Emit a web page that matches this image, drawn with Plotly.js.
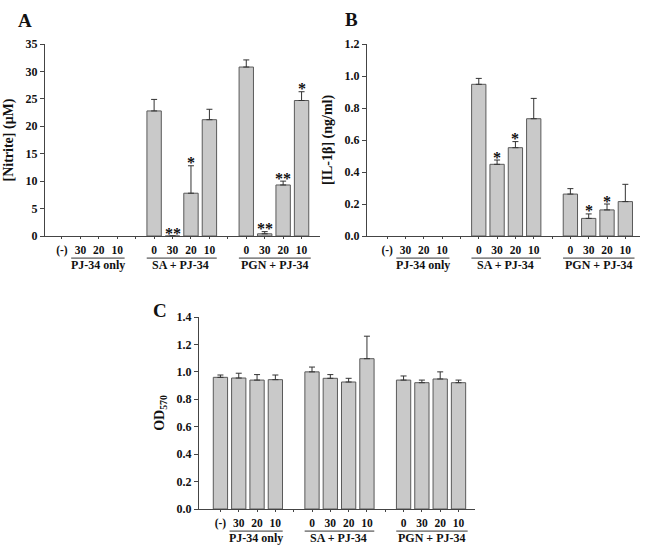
<!DOCTYPE html>
<html>
<head>
<meta charset="utf-8">
<script src="https://cdn.plot.ly/plotly-3.0.1.min.js"></script>
<style>
  body { margin: 0; background: #fff; }
  #fig { width: 651px; height: 554px; }
</style>
</head>
<body>
<div id="fig"></div>
<script>
// kategori dosis (PJ-34, uM) dan kelompok perlakuan
var groupNames = ['PJ-34 only', 'SA + PJ-34', 'PGN + PJ-34'];
var doseLabels = ['(-)', '30', '20', '10', '0', '30', '20', '10', '0', '30', '20', '10'];
var groupOf = [0, 0, 0, 0, 1, 1, 1, 1, 2, 2, 2, 2];

// panel A: nitrite (uM)
var nitrite = [null, null, null, null, 22.8, 0, 7.8, 21.2, 30.8, 0.4, 9.3, 24.7];
var nitriteErr = [0, 0, 0, 0, 2.1, 0, 5.0, 1.9, 1.3, 0.4, 0.7, 1.6];
var nitriteSig = ['', '', '', '', '', '**', '*', '', '', '**', '**', '*'];

// panel B: IL-1beta (ng/ml)
var il1b = [null, null, null, null, 0.948, 0.448, 0.552, 0.733, 0.262, 0.110, 0.163, 0.215];
var il1bErr = [0, 0, 0, 0, 0.037, 0.027, 0.038, 0.127, 0.034, 0.028, 0.037, 0.108];
var il1bSig = ['', '', '', '', '', '*', '*', '', '', '*', '*', ''];

// panel C: OD570
var od570 = [0.960, 0.955, 0.940, 0.943, 1.000, 0.953, 0.926, 1.096, 0.940, 0.921, 0.948, 0.921];
var od570Err = [0.017, 0.035, 0.040, 0.034, 0.035, 0.027, 0.027, 0.164, 0.030, 0.019, 0.052, 0.019];

// posisi x: satu slot kosong di antara kelompok
var xpos = doseLabels.map(function (d, i) { return i + groupOf[i]; });
var sepPos = [4, 9];

var serif = 'Liberation Serif, Times New Roman, serif';
var W = 651, H = 554;

function barTrace(y, err, xa, ya) {
    return {
        type: 'bar',
        x: xpos,
        y: y,
        xaxis: xa,
        yaxis: ya,
        width: 0.78,
        marker: { color: '#c9c9c9', line: { color: '#5a5a5a', width: 1 } },
        error_y: {
            type: 'data', symmetric: false,
            array: err, arrayminus: err.map(function () { return 0; }),
            color: '#333', thickness: 1, width: 3
        },
        hoverinfo: 'skip'
    };
}

var data = [
    barTrace(nitrite, nitriteErr, 'x', 'y'),
    barTrace(il1b, il1bErr, 'x2', 'y2'),
    barTrace(od570, od570Err, 'x3', 'y3')
];

function xAxis(dom, rng, anchor) {
    return {
        domain: dom, range: rng, anchor: anchor,
        tickmode: 'array', tickvals: xpos, ticktext: doseLabels,
        ticks: 'outside', ticklen: 2, tickcolor: '#444', ticklabelstandoff: 1,
        minor: { tickmode: 'array', tickvals: sepPos, ticks: 'outside', ticklen: 2, tickcolor: '#444', showgrid: false },
        showline: true, linecolor: '#444', linewidth: 1,
        showgrid: false, zeroline: false, fixedrange: true,
        tickfont: { family: serif, size: 11.5, color: '#111', weight: 'bold' }
    };
}

function yAxis(dom, rng, dt, fmt, title, anchor) {
    return {
        domain: dom, range: rng, anchor: anchor,
        dtick: dt, tick0: 0, tickformat: fmt,
        ticks: 'outside', ticklen: 4, tickcolor: '#444',
        showline: true, linecolor: '#444', linewidth: 1,
        showgrid: false, zeroline: false, fixedrange: true,
        tickfont: { family: serif, size: 12, color: '#111', weight: 'bold' },
        title: { text: title, standoff: 8, font: { family: serif, size: 14, color: '#111', weight: 'bold' } }
    };
}

// garis bawah dan label kelompok
var spans = [[0.5, 3.4], [4.6, 8.4], [9.6, 13.5]];
var labelCenters = [1.95, 6.45, 11.55];
var shapes = [];
var annotations = [];
[['x', 'y'], ['x2', 'y2'], ['x3', 'y3']].forEach(function (ax) {
    spans.forEach(function (s, g) {
        shapes.push({
            type: 'line', xref: ax[0], yref: ax[1] + ' domain',
            x0: s[0], x1: s[1], y0: -0.115, y1: -0.115,
            line: { color: '#333', width: 1 }
        });
        annotations.push({
            text: groupNames[g], xref: ax[0], yref: ax[1] + ' domain',
            x: labelCenters[g], y: -0.153, showarrow: false,
            xanchor: 'center', yanchor: 'middle',
            font: { family: serif, size: 12, color: '#111', weight: 'bold' }
        });
    });
});

// tanda signifikansi di atas batang
function addSig(vals, errs, sig, xa, ya) {
    sig.forEach(function (s, i) {
        if (!s) return;
        annotations.push({
            text: s, xref: xa, yref: ya,
            x: xpos[i], y: (vals[i] || 0) + errs[i],
            showarrow: false, xanchor: 'center', yanchor: 'middle', yshift: 3,
            font: { family: serif, size: 16, color: '#111', weight: 'bold' }
        });
    });
}
addSig(nitrite, nitriteErr, nitriteSig, 'x', 'y');
addSig(il1b, il1bErr, il1bSig, 'x2', 'y2');

// huruf panel
[['A', 25, 21], ['B', 351, 20], ['C', 160, 310]].forEach(function (p) {
    annotations.push({
        text: p[0], xref: 'paper', yref: 'paper',
        x: p[1] / W, y: 1 - p[2] / H, showarrow: false,
        xanchor: 'center', yanchor: 'middle',
        font: { family: serif, size: 19, color: '#111', weight: 'bold' }
    });
});

var layout = {
    width: W, height: H,
    margin: { l: 0, r: 0, t: 0, b: 0 },
    paper_bgcolor: '#fff', plot_bgcolor: '#fff',
    showlegend: false,
    xaxis: xAxis([45 / W, 320 / W], [-0.92, 14.0], 'y'),
    yaxis: yAxis([1 - 236 / H, 1 - 44 / H], [0, 35], 5, 'd', '[Nitrite] (μM)', 'x'),
    xaxis2: xAxis([367 / W, 640 / W], [-1.1, 13.8], 'y2'),
    yaxis2: yAxis([1 - 236 / H, 1 - 44 / H], [0, 1.2], 0.2, '.1f', '[IL-1β] (ng/ml)', 'x2'),
    xaxis3: xAxis([199 / W, 475 / W], [-1.17, 13.9], 'y3'),
    yaxis3: yAxis([1 - 509 / H, 1 - 317 / H], [0, 1.4], 0.2, '.1f', 'OD<sub>570</sub>', 'x3'),
    shapes: shapes,
    annotations: annotations
};

Plotly.newPlot('fig', data, layout, { staticPlot: true });
</script>
</body>
</html>
